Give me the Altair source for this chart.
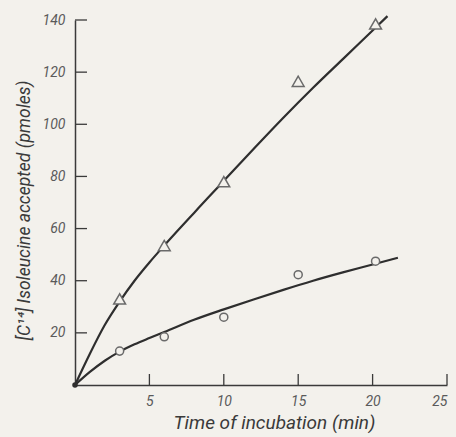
import altair as alt
import pandas as pd

# Measured points
pt_time = [3, 6, 10, 15, 20.2]
tri_vals = [33, 53.5, 78, 116.5, 138.5]
circ_vals = [13, 18.5, 26, 42.3, 47.5]

# Hand-drawn fitted curves
tri_curve_t = [0, 1, 2, 3, 4, 5, 6, 7, 8, 9, 10, 12, 14, 16, 18, 20, 21]
tri_curve_v = [0, 12, 23, 32, 40, 47, 53.5, 59.8, 66, 72.2, 78.3, 90.5, 102.5, 114, 125, 136, 141.5]
circ_curve_t = [0, 1, 2, 3, 4, 5, 6, 8, 10, 12, 14, 16, 18, 20, 21.7]
circ_curve_v = [0, 5, 9.3, 12.8, 15.6, 18, 20.3, 25, 29, 32.8, 36.5, 40, 43.2, 46.2, 48.8]

x_ticks = [5, 10, 15, 20, 25]
y_ticks = [20, 40, 60, 80, 100, 120, 140]

FONT = "Roboto, Liberation Sans"
INK = "#3a3a3a"
LBL = "#5a5a5a"
PAPER = "#f3f1ec"

curves = pd.concat([
    pd.DataFrame({"t": tri_curve_t, "v": tri_curve_v, "s": "tri"}),
    pd.DataFrame({"t": circ_curve_t, "v": circ_curve_v, "s": "circ"}),
])
tri_df = pd.DataFrame({"t": pt_time, "v": tri_vals})
circ_df = pd.DataFrame({"t": pt_time, "v": circ_vals})

xscale = alt.Scale(domain=[0, 25], nice=False, zero=True)
yscale = alt.Scale(domain=[0, 140], nice=False, zero=True)

xax = alt.Axis(values=x_ticks, ticks=False, grid=False, domainColor=INK, domainWidth=1.5,
               labelFont=FONT, labelFontStyle="italic", labelFontSize=14, labelColor=LBL,
               labelPadding=9, title="Time of incubation (min)", titleFont=FONT,
               titleFontStyle="italic", titleFontWeight="normal", titleFontSize=19,
               titleColor=INK, titlePadding=5, titleX=199)
yax = alt.Axis(values=y_ticks, ticks=False, grid=False, domainColor=INK, domainWidth=1.5,
               labelFont=FONT, labelFontStyle="italic", labelFontSize=14, labelColor=LBL,
               labelPadding=10, title="[C\u00b9\u2074] Isoleucine accepted (pmoles)", titleFont=FONT,
               titleFontStyle="italic", titleFontWeight="normal", titleFontSize=17.5,
               titleColor=INK, titlePadding=9, titleY=190)

lines = alt.Chart(curves).mark_line(interpolate="monotone", color="#2e2e2e", strokeWidth=2.2).encode(
    x=alt.X("t:Q", scale=xscale, axis=xax),
    y=alt.Y("v:Q", scale=yscale, axis=yax),
    detail="s:N",
)

tris = alt.Chart(tri_df).mark_point(shape="triangle-up", filled=True, fill=PAPER,
                                     stroke="#6a6a6a", strokeWidth=1.5, size=140, opacity=1).encode(
    x="t:Q", y="v:Q")
circs = alt.Chart(circ_df).mark_point(shape="circle", filled=True, fill=PAPER,
                                       stroke="#6a6a6a", strokeWidth=1.5, size=65, opacity=1).encode(
    x="t:Q", y="v:Q")

ytick_marks = alt.Chart(pd.DataFrame({"v": y_ticks})).mark_rule(color=INK, strokeWidth=1.3).encode(
    y="v:Q", x=alt.value(0), x2=alt.value(12))
xtick_marks = alt.Chart(pd.DataFrame({"t": x_ticks})).mark_rule(color=INK, strokeWidth=1.3).encode(
    x="t:Q", y=alt.value(365), y2=alt.value(354))

origin = alt.Chart(pd.DataFrame({"t": [0], "v": [0]})).mark_point(
    shape="circle", filled=True, color="#2e2e2e", size=30, opacity=1).encode(x="t:Q", y="v:Q")

chart = alt.layer(lines, ytick_marks, xtick_marks, tris, circs, origin).properties(
    width=372, height=365,
    autosize=alt.AutoSizeParams(type="none"),
    padding={"left": 75, "top": 20, "right": 9, "bottom": 52},
    background=PAPER,
).configure_view(stroke=None)

chart.save("out.html", embed_options={"renderer": "svg", "actions": False})
